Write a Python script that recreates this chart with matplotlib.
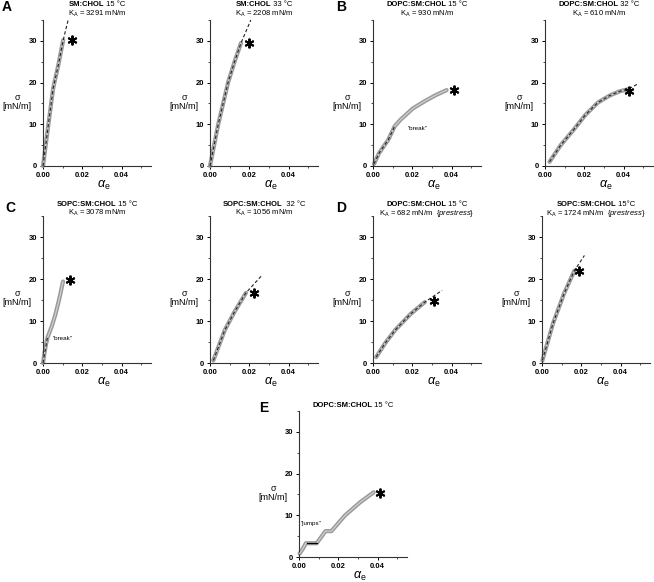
import matplotlib
matplotlib.use("Agg")
import matplotlib.pyplot as plt
from matplotlib.ticker import MultipleLocator

plt.rcParams['font.family'] = ['Liberation Sans', 'DejaVu Sans']
plt.rcParams['mathtext.fontset'] = 'custom'
plt.rcParams['mathtext.rm'] = 'Liberation Sans'
plt.rcParams['mathtext.it'] = 'Liberation Sans:italic'
plt.rcParams['mathtext.bf'] = 'Liberation Sans:bold'

# --- data (alpha_e, sigma in mN/m) ---
a1_alpha = [0, 0.0027, 0.0052, 0.0078, 0.0103]
a1_sigma = [0, 9.8, 18.7, 24.2, 30.2]
a1_fit_alpha = [0, 0.0027, 0.0052, 0.0078, 0.0103, 0.0128]
a1_fit_sigma = [0, 9.8, 18.7, 24.2, 30.2, 35]

a2_alpha = [0, 0.0042, 0.0092, 0.0125, 0.0158]
a2_sigma = [0, 10, 20, 25, 29.5]
a2_fit_alpha = [0, 0.0042, 0.0092, 0.0125, 0.0158, 0.0208]
a2_fit_sigma = [0, 10, 20, 25, 29.5, 35]

b1_alpha = [0.0005, 0.0031, 0.0078, 0.011, 0.014, 0.0203, 0.0266, 0.032, 0.0375]
b1_sigma = [0.5, 3.1, 6.3, 9.5, 11.1, 13.8, 15.6, 17.0, 18.2]
b1_fit_alpha = [0.0005, 0.0031, 0.0078, 0.011]
b1_fit_sigma = [0.5, 3.1, 6.3, 9.5]

b2_alpha = [0.0023, 0.008, 0.0146, 0.0205, 0.0269, 0.033, 0.038, 0.0423]
b2_sigma = [1.0, 5.0, 8.7, 12.2, 15.2, 16.9, 17.9, 18.4]
b2_fit_alpha = [0.0023, 0.008, 0.0146, 0.0205, 0.0269, 0.033, 0.038, 0.0423, 0.047]
b2_fit_sigma = [1.0, 5.0, 8.7, 12.2, 15.2, 16.9, 17.9, 18.4, 19.6]

c1_alpha = [0, 0.0008, 0.0016, 0.0024, 0.0045, 0.0063, 0.0083, 0.0102]
c1_sigma = [0, 2.5, 4.6, 6.2, 8.8, 11.5, 15.3, 19.4]
c1_fit_alpha = [0, 0.0024]
c1_fit_sigma = [0, 6.5]

c2_alpha = [0.0017, 0.0075, 0.0125, 0.0183]
c2_sigma = [0.6, 7.8, 12.2, 16.7]
c2_fit_alpha = [0.0017, 0.0075, 0.0125, 0.0183, 0.0267]
c2_fit_sigma = [0.6, 7.8, 12.2, 16.7, 21]

d1_alpha = [0.0016, 0.006, 0.0112, 0.0192, 0.0264]
d1_sigma = [1.4, 4.6, 7.8, 11.7, 14.5]
d1_fit_alpha = [0.0016, 0.006, 0.0112, 0.0192, 0.0264, 0.0352]
d1_fit_sigma = [1.4, 4.6, 7.8, 11.7, 14.5, 17.3]

d2_alpha = [0.0002, 0.0056, 0.0112, 0.0165]
d2_sigma = [0.6, 9.4, 16.5, 22]
d2_fit_alpha = [0.0002, 0.0056, 0.0112, 0.0165, 0.0216]
d2_fit_sigma = [0.6, 9.4, 16.5, 22, 25.6]

e_alpha = [0.0003, 0.0020, 0.0035, 0.0090, 0.0135, 0.0165, 0.0235, 0.0311, 0.0380]
e_sigma = [0.8, 2.0, 3.3, 3.3, 6.2, 6.2, 10.0, 13.1, 15.5]
e_jump_alpha = [0.0040, 0.0092]
e_jump_sigma = [3.3, 3.3]

# asterisk positions
stars = {
    'a1': (0.0150, 30.3), 'a2': (0.0197, 29.5),
    'b1': (0.0410, 18.2), 'b2': (0.0430, 18.0),
    'c1': (0.0135, 19.8), 'c2': (0.0222, 16.6),
    'd1': (0.0312, 14.7), 'd2': (0.0187, 22.0),
    'e': (0.0410, 15.3),
}

titles = {
    'a1': ('SM:CHOL', ' 15 °C', 'K$_{\\rm A}$ = 3291 mN/m'),
    'a2': ('SM:CHOL', ' 33 °C', 'K$_{\\rm A}$ = 2208 mN/m'),
    'b1': ('DOPC:SM:CHOL', ' 15 °C', 'K$_{\\rm A}$ = 930 mN/m'),
    'b2': ('DOPC:SM:CHOL', ' 32 °C', 'K$_{\\rm A}$ = 610 mN/m'),
    'c1': ('SOPC:SM:CHOL', ' 15 °C', 'K$_{\\rm A}$ = 3078 mN/m'),
    'c2': ('SOPC:SM:CHOL', '  32 °C', 'K$_{\\rm A}$ = 1056 mN/m'),
    'd1': ('DOPC:SM:CHOL', ' 15 °C', 'K$_{\\rm A}$ = 682 mN/m  {$\\it{prestress}$}'),
    'd2': ('SOPC:SM:CHOL', ' 15°C', 'K$_{\\rm A}$ = 1724 mN/m  {$\\it{prestress}$}'),
    'e': ('DOPC:SM:CHOL', ' 15 °C', None),
}

W, H = 654, 582
fig = plt.figure(figsize=(W / 100, H / 100), dpi=100)

# axes boxes in pixels: left, bottom(from top), width, height
boxes = {
    'a1': (43, 166, 108, 146), 'a2': (210, 166, 108, 146),
    'b1': (373, 166, 108, 146), 'b2': (545, 166, 108, 146),
    'c1': (43, 363, 108, 147), 'c2': (210, 363, 108, 147),
    'd1': (373, 363, 108, 147), 'd2': (542, 363, 108, 147),
    'e': (299, 557, 108, 146),
}
title_y = {'a1': (1.103, 1.041), 'a2': (1.103, 1.041), 'b1': (1.103, 1.041), 'b2': (1.103, 1.041),
           'c1': (1.080, 1.018), 'c2': (1.080, 1.018), 'd1': (1.080, 1.018), 'd2': (1.080, 1.018),
           'e': (1.041, None)}

series = {
    'a1': (a1_alpha, a1_sigma, a1_fit_alpha, a1_fit_sigma),
    'a2': (a2_alpha, a2_sigma, a2_fit_alpha, a2_fit_sigma),
    'b1': (b1_alpha, b1_sigma, b1_fit_alpha, b1_fit_sigma),
    'b2': (b2_alpha, b2_sigma, b2_fit_alpha, b2_fit_sigma),
    'c1': (c1_alpha, c1_sigma, c1_fit_alpha, c1_fit_sigma),
    'c2': (c2_alpha, c2_sigma, c2_fit_alpha, c2_fit_sigma),
    'd1': (d1_alpha, d1_sigma, d1_fit_alpha, d1_fit_sigma),
    'd2': (d2_alpha, d2_sigma, d2_fit_alpha, d2_fit_sigma),
    'e': (e_alpha, e_sigma, None, None),
}

renderer = fig.canvas.get_renderer()
axes = {}
for key, (l, b, w, h) in boxes.items():
    ax = fig.add_axes([l / W, 1 - b / H, w / W, h / H])
    axes[key] = ax
    xa, ya, fa, fs = series[key]
    ax.plot(xa, ya, color='#9a9a9a', lw=3.0, solid_capstyle='round', zorder=2, clip_on=False)
    ax.plot(xa, ya, color='#d4d4d4', lw=0.8, zorder=3, clip_on=False)
    if fa is not None:
        ax.plot(fa, fs, color='#222222', lw=0.8, ls=(0, (3, 2)), zorder=4, clip_on=False)
    sx, sy = stars[key]
    ax.plot([sx], [sy], marker=(6, 2, 0), color='black', ms=7, mew=1.4, zorder=5)

    ax.set_xlim(0, 0.055)
    ax.set_ylim(0, 35)
    ax.xaxis.set_major_locator(MultipleLocator(0.02))
    ax.xaxis.set_minor_locator(MultipleLocator(0.01))
    ax.yaxis.set_major_locator(MultipleLocator(10))
    ax.yaxis.set_minor_locator(MultipleLocator(5))
    ax.set_xticks([0, 0.02, 0.04])
    ax.set_xticklabels(['0.00', '0.02', '0.04'])
    for s in ['top', 'right']:
        ax.spines[s].set_visible(False)
    for s in ['left', 'bottom']:
        ax.spines[s].set_linewidth(0.8)
        ax.spines[s].set_color('#333333')
    ax.tick_params(which='major', length=2.5, width=0.7, pad=1.5, labelsize=5.5)
    ax.tick_params(which='minor', length=1.5, width=0.5)
    for lab in ax.get_xticklabels() + ax.get_yticklabels():
        lab.set_fontweight('bold')

    ax.text(-0.24, 0.44, 'σ\n[mN/m]', transform=ax.transAxes, ha='center', va='center',
            fontsize=6.5, linespacing=1.0)
    ax.text(0.56, -0.13, r'$\alpha_{\rm e}$', transform=ax.transAxes, ha='center', va='center',
            fontsize=9)

    bold, rest, ka = titles[key]
    y1, y2 = title_y[key]
    t1 = ax.text(0, y1, bold, transform=ax.transAxes, fontsize=5.5, fontweight='bold',
                 ha='left', va='center')
    t2 = ax.text(0, y1, rest, transform=ax.transAxes, fontsize=5.5, ha='left', va='center')
    w1 = t1.get_window_extent(renderer).width / w
    w2 = t2.get_window_extent(renderer).width / w
    x0 = 0.5 - (w1 + w2) / 2
    t1.set_x(x0)
    t2.set_x(x0 + w1)
    if ka is not None:
        ax.text(0.5, y2, ka, transform=ax.transAxes, fontsize=5.5, ha='center', va='center')

# black flat segment showing the "jumps"
axes['e'].plot(e_jump_alpha, e_jump_sigma, color='black', lw=0.9, zorder=4)

axes['b1'].text(0.0227, 9.1, '"break"', fontsize=4.5, ha='center', va='center')
axes['c1'].text(0.0100, 5.8, '"break"', fontsize=4.5, ha='center', va='center')
axes['e'].text(0.0061, 8.0, '"jumps"', fontsize=4.5, ha='center', va='center')

for letter, (px, py) in {'A': (7, 7), 'B': (341, 7), 'C': (10, 208), 'D': (341, 208),
                         'E': (264, 408)}.items():
    fig.text(px / W, 1 - py / H, letter, fontsize=10, fontweight='bold', ha='center', va='center')

fig.savefig('out.png', dpi=100)
